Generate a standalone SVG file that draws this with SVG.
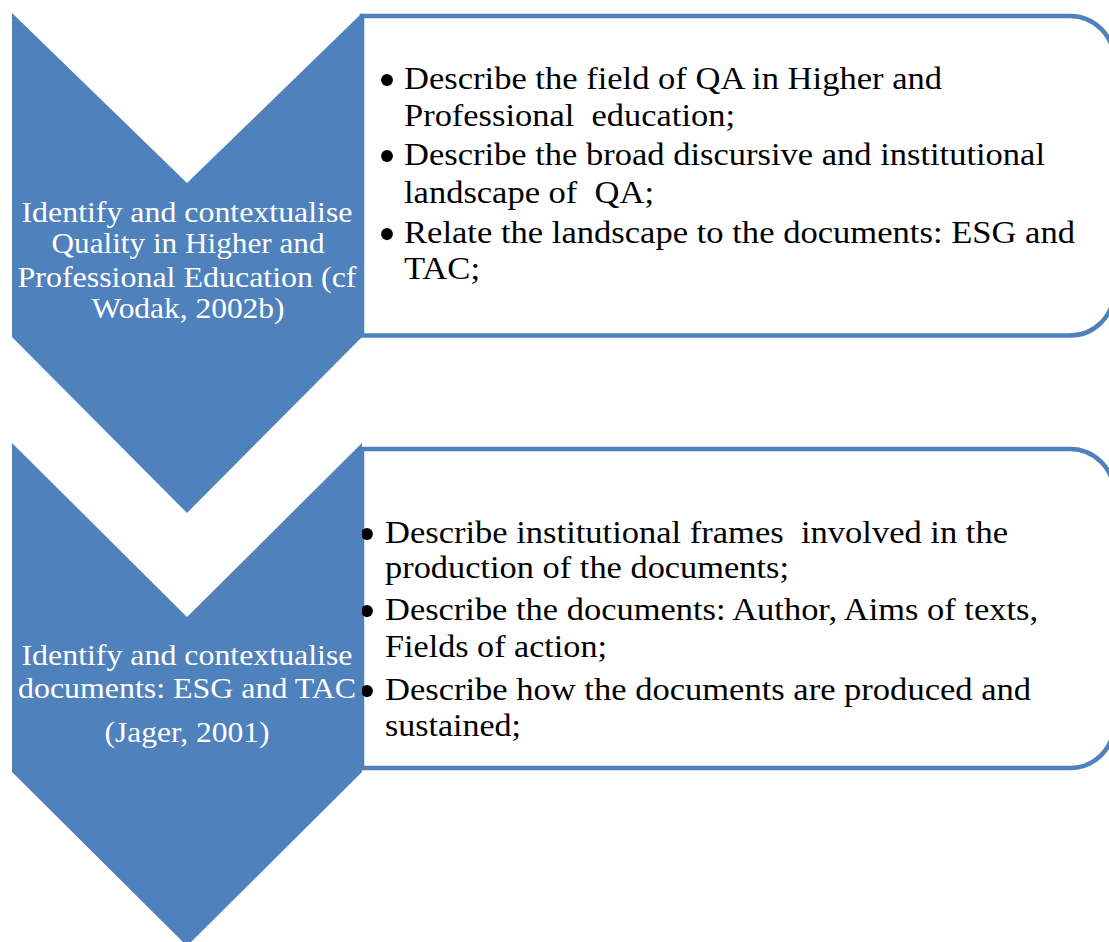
<svg xmlns="http://www.w3.org/2000/svg" width="1109" height="942" viewBox="0 0 1109 942">
  <style>
    .chev { fill: #4F81BD; }
    .box { fill: #FFFFFF; stroke: #4F81BD; stroke-width: 4.5; }
    .ct { font-family: "Liberation Serif", "Times New Roman", serif; font-size: 30px; fill: #FFFFFF; text-anchor: middle; }
    .bt { font-family: "Liberation Serif", "Times New Roman", serif; font-size: 32px; fill: #000000; }
    .bu { font-family: "Liberation Serif", "Times New Roman", serif; font-size: 50px; fill: #000000; text-anchor: middle; }
  </style>
  <rect width="1109" height="942" fill="#FFFFFF"/>
  <g id="box1">
    <path class="box" d="M362,16 H1070 A44,44 0 0 1 1114,60 V291.5 A44,44 0 0 1 1070,335.5 H362 Z"/>
    <text class="bu" x="387" y="97">•</text>
    <text class="bt" x="404" y="89" textLength="538" lengthAdjust="spacingAndGlyphs">Describe the field of QA in Higher and</text>
    <text class="bt" x="404" y="126" textLength="331" lengthAdjust="spacingAndGlyphs" xml:space="preserve">Professional  education;</text>
    <text class="bu" x="387" y="173">•</text>
    <text class="bt" x="404" y="165" textLength="641" lengthAdjust="spacingAndGlyphs">Describe the broad discursive and institutional</text>
    <text class="bt" x="404" y="203" textLength="250" lengthAdjust="spacingAndGlyphs" xml:space="preserve">landscape of  QA;</text>
    <text class="bu" x="387" y="251">•</text>
    <text class="bt" x="404" y="243" textLength="671" lengthAdjust="spacingAndGlyphs">Relate the landscape to the documents: ESG and</text>
    <text class="bt" x="404" y="279" textLength="76" lengthAdjust="spacingAndGlyphs">TAC;</text>
  </g>
  <g id="box2">
    <path class="box" d="M362,449 H1070 A44,44 0 0 1 1114,493 V724 A44,44 0 0 1 1070,768 H362 Z"/>
    <text class="bu" x="367" y="551">•</text>
    <text class="bt" x="385" y="543" textLength="623" lengthAdjust="spacingAndGlyphs" xml:space="preserve">Describe institutional frames  involved in the</text>
    <text class="bt" x="385" y="578" textLength="404" lengthAdjust="spacingAndGlyphs">production of the documents;</text>
    <text class="bu" x="367" y="628">•</text>
    <text class="bt" x="385" y="620" textLength="653" lengthAdjust="spacingAndGlyphs">Describe the documents: Author, Aims of texts,</text>
    <text class="bt" x="385" y="657" textLength="222" lengthAdjust="spacingAndGlyphs">Fields of action;</text>
    <text class="bu" x="367" y="708">•</text>
    <text class="bt" x="385" y="700" textLength="646" lengthAdjust="spacingAndGlyphs">Describe how the documents are produced and</text>
    <text class="bt" x="385" y="736" textLength="136" lengthAdjust="spacingAndGlyphs">sustained;</text>
  </g>
  <g id="chevron1">
    <polygon class="chev" points="12,13 187,183 362,13 362,337 187,513 12,337"/>
    <text class="ct" x="187" y="222" textLength="331" lengthAdjust="spacingAndGlyphs">Identify and contextualise</text>
    <text class="ct" x="188" y="253" textLength="273" lengthAdjust="spacingAndGlyphs">Quality in Higher and</text>
    <text class="ct" x="187" y="287" textLength="339" lengthAdjust="spacingAndGlyphs">Professional Education (cf</text>
    <text class="ct" x="188" y="318" textLength="193" lengthAdjust="spacingAndGlyphs">Wodak, 2002b)</text>
  </g>
  <g id="chevron2">
    <polygon class="chev" points="12,443 187,617 362,443 362,772 187,946 12,772"/>
    <text class="ct" x="187" y="665" textLength="331" lengthAdjust="spacingAndGlyphs">Identify and contextualise</text>
    <text class="ct" x="187" y="698" textLength="338" lengthAdjust="spacingAndGlyphs">documents: ESG and TAC</text>
    <text class="ct" x="187" y="742" textLength="165" lengthAdjust="spacingAndGlyphs">(Jager, 2001)</text>
  </g>
  <g id="connectors"/>
</svg>
